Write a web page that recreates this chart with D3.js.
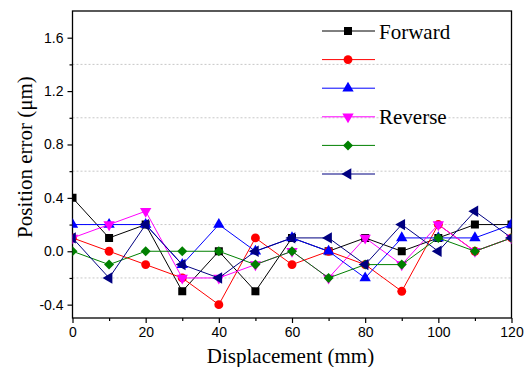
<!DOCTYPE html>
<html>
<head>
<meta charset="utf-8">
<script src="https://cdn.jsdelivr.net/npm/d3@7"></script>
<style>
  body { margin: 0; background: #fff; }
  svg { display: block; }
  .tick text { font-family: "Liberation Sans", Arial, sans-serif; font-size: 14px; fill: #000; }
</style>
</head>
<body>
<div id="chart"></div>
<script>
// Data
const displacement = [0, 10, 20, 30, 40, 50, 60, 70, 80, 90, 100, 110, 120];
const run1 = [0.4, 0.1, 0.2, -0.3, 0.0, -0.3, 0.1, 0.0, 0.1, 0.0, 0.1, 0.2, 0.2];
const run2 = [0.1, 0.0, -0.1, -0.2, -0.4, 0.1, -0.1, 0.0, -0.1, -0.3, 0.2, 0.0, 0.1];
const run3 = [0.2, 0.2, 0.2, -0.1, 0.2, 0.0, 0.1, 0.0, -0.2, 0.1, 0.1, 0.1, 0.2];
const run4 = [0.1, 0.2, 0.3, -0.2, -0.2, -0.1, 0.0, -0.2, 0.1, -0.1, 0.2, 0.0, 0.1];
const run5 = [0.0, -0.1, 0.0, 0.0, 0.0, -0.1, 0.0, -0.2, -0.1, -0.1, 0.1, 0.0, 0.1];
const run6 = [0.1, -0.2, 0.2, -0.1, -0.2, 0.0, 0.1, 0.1, -0.1, 0.2, 0.0, 0.3, 0.1];
const legendLabels = ["Forward", "", "", "Reverse", "", ""];
const yMajorTicks = [-0.4, 0.0, 0.4, 0.8, 1.2, 1.6];
const yMinorTicks = [-0.2, 0.2, 0.6, 1.0, 1.4];
const xMajorTicks = [0, 20, 40, 60, 80, 100, 120];
const xMinorTicks = [10, 30, 50, 70, 90, 110];

const series = [
  { values: run1, color: "#000000", symbol: d3.symbolSquare, size: 64, rot: 0 },
  { values: run2, color: "#ff0000", symbol: d3.symbolCircle, size: 62, rot: 0 },
  { values: run3, color: "#0000ff", symbol: d3.symbolTriangle, size: 56, rot: 0 },
  { values: run4, color: "#ff00ff", symbol: d3.symbolTriangle, size: 56, rot: 180 },
  { values: run5, color: "#008000", symbol: d3.symbolSquare, size: 50, rot: 45 },
  { values: run6, color: "#000080", symbol: d3.symbolTriangle, size: 56, rot: -90 }
];

const width = 526;
const height = 367;
const margin = { left: 72.5, right: 14.5, top: 11, bottom: 49 };

const svg = d3.select("#chart")
  .append("svg")
  .attr("width", width)
  .attr("height", height);

const x = d3.scaleLinear()
  .domain([0, 120])
  .range([margin.left, width - margin.right]);

const y = d3.scaleLinear()
  .domain([-0.5, 1.8])
  .range([height - margin.bottom, margin.top]);

// Gridlines at minor positions
svg.append("g")
  .selectAll("line")
  .data(yMinorTicks)
  .enter()
  .append("line")
  .attr("x1", x(0))
  .attr("x2", x(120))
  .attr("y1", (d) => y(d))
  .attr("y2", (d) => y(d))
  .attr("stroke", "#c8c8c8")
  .attr("stroke-width", 1)
  .attr("stroke-dasharray", "2,2");

// Axes
const xAxis = d3.axisBottom(x).tickValues(xMajorTicks).tickSize(5).tickPadding(4).tickFormat(d3.format("d"));
const yAxis = d3.axisLeft(y).tickValues(yMajorTicks).tickSize(5).tickPadding(4).tickFormat((d) => d.toFixed(1));

const gx = svg.append("g")
  .attr("transform", `translate(0, ${y(-0.5)})`)
  .call(xAxis);
gx.select(".domain").remove();

const gy = svg.append("g")
  .attr("transform", `translate(${x(0)}, 0)`)
  .call(yAxis);
gy.select(".domain").remove();

svg.append("g")
  .attr("transform", `translate(0, ${y(-0.5)})`)
  .call(d3.axisBottom(x).tickValues(xMinorTicks).tickSize(3).tickFormat(""))
  .select(".domain").remove();

svg.append("g")
  .attr("transform", `translate(${x(0)}, 0)`)
  .call(d3.axisLeft(y).tickValues(yMinorTicks).tickSize(3).tickFormat(""))
  .select(".domain").remove();

svg.selectAll(".tick line").attr("stroke", "#000").attr("stroke-width", 1.2);

// Frame
svg.append("rect")
  .attr("x", x(0))
  .attr("y", y(1.8))
  .attr("width", x(120) - x(0))
  .attr("height", y(-0.5) - y(1.8))
  .attr("fill", "none")
  .attr("stroke", "#000")
  .attr("stroke-width", 1.3);

// Clip for data
svg.append("clipPath")
  .attr("id", "plot-clip")
  .append("rect")
  .attr("x", x(0))
  .attr("y", y(1.8))
  .attr("width", x(120) - x(0))
  .attr("height", y(-0.5) - y(1.8));

const plot = svg.append("g").attr("clip-path", "url(#plot-clip)");

const line = d3.line()
  .x((d, i) => x(displacement[i]))
  .y((d) => y(d));

const symbolPath = (s) => d3.symbol().type(s.symbol).size(s.size)();

series.forEach((s) => {
  const g = plot.append("g");
  g.append("path")
    .datum(s.values)
    .attr("d", line)
    .attr("fill", "none")
    .attr("stroke", s.color)
    .attr("stroke-width", 1);

  g.selectAll(".pt")
    .data(s.values)
    .enter()
    .append("path")
    .attr("class", "pt")
    .attr("d", symbolPath(s))
    .attr("transform", (d, i) => `translate(${x(displacement[i])}, ${y(d)}) rotate(${s.rot})`)
    .attr("fill", s.color);
});

// Legend
const legend = svg.append("g").attr("id", "legend");
series.forEach((s, i) => {
  const ly = 31 + i * 28.6;
  legend.append("line")
    .attr("x1", 322)
    .attr("x2", 375)
    .attr("y1", ly)
    .attr("y2", ly)
    .attr("stroke", s.color)
    .attr("stroke-width", 1);
  legend.append("path")
    .attr("d", symbolPath(s))
    .attr("transform", `translate(348, ${ly}) rotate(${s.rot})`)
    .attr("fill", s.color);
  if (legendLabels[i]) {
    legend.append("text")
      .attr("x", 379)
      .attr("y", ly + 7.5)
      .attr("font-family", "Liberation Serif, serif")
      .attr("font-size", 21)
      .text(legendLabels[i]);
  }
});

// Axis titles
svg.append("text")
  .attr("x", 290.5)
  .attr("y", 363)
  .attr("text-anchor", "middle")
  .attr("font-family", "Liberation Serif, serif")
  .attr("font-size", 21)
  .text("Displacement (mm)");

svg.append("text")
  .attr("transform", "translate(32, 157) rotate(-90)")
  .attr("text-anchor", "middle")
  .attr("font-family", "Liberation Serif, serif")
  .attr("font-size", 21)
  .text("Position error (μm)");
</script>
</body>
</html>
